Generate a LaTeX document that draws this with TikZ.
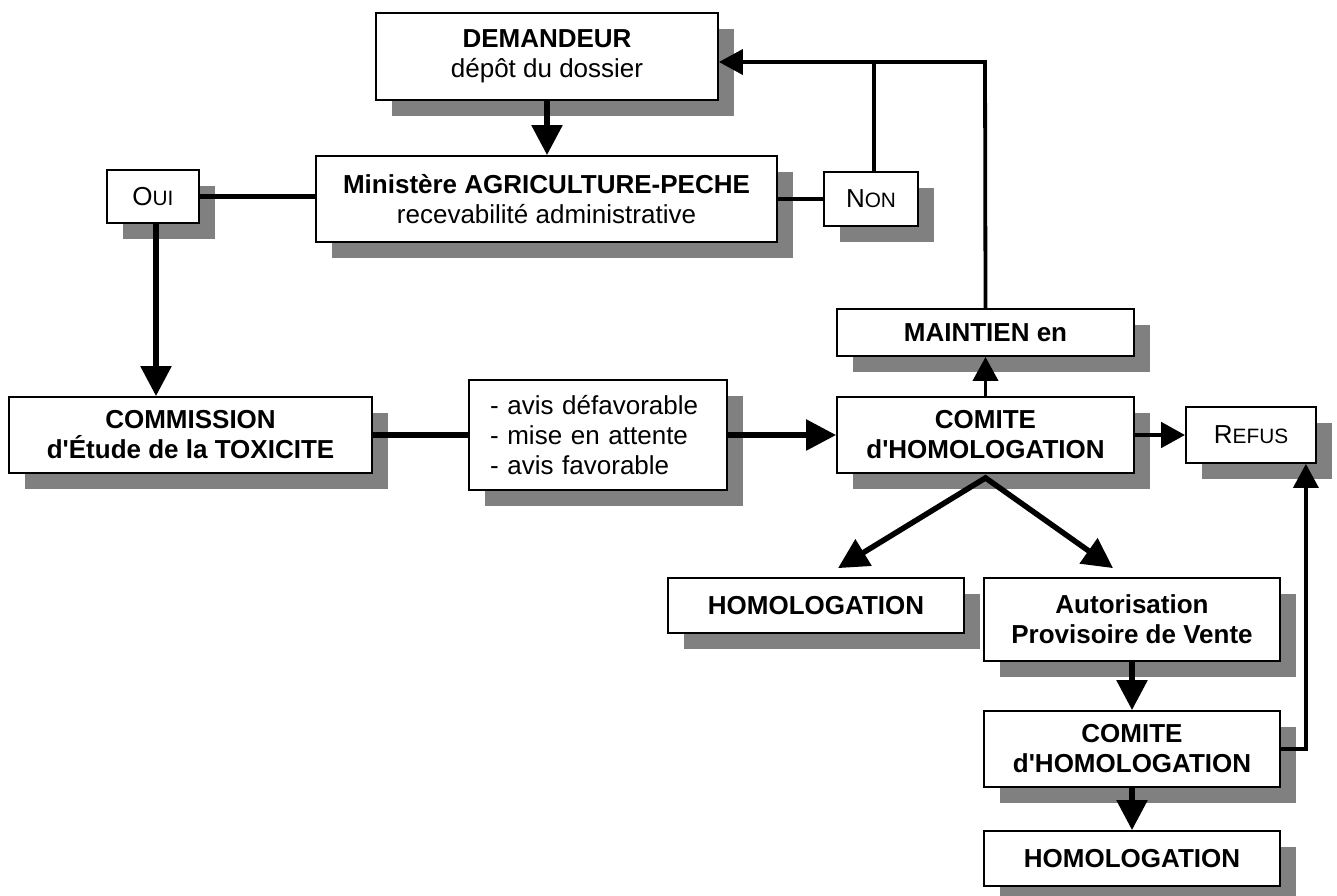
\documentclass[tikz,border=0pt]{standalone}
\usepackage{fontspec}
\setmainfont{Liberation Sans}
\usetikzlibrary{arrows.meta,shadows}
\newcommand{\petcap}[2]{#1{\fontsize{10.4}{12}\selectfont #2}}
\newcommand{\apos}{\textquotesingle}

\begin{document}
\begin{tikzpicture}[x=0.5pt, y=-0.5pt,
		boite/.style={draw, line width=0.9pt, fill=white, inner sep=0pt, align=center,
			font=\fontsize{13}{15}\selectfont,
			drop shadow={shadow xshift=8pt, shadow yshift=-8pt, fill=black!50, opacity=1}},
		gras/.style={boite, font=\fontsize{13}{15}\selectfont\bfseries},
		epais/.style={line width=2.75pt},
		fin/.style={line width=1.9pt},
		grande/.style={-{Triangle[length=15pt, width=15pt]}},
		moyenne/.style={-{Triangle[length=12pt, width=12.5pt]}}]
	\useasboundingbox (0,0) rectangle (1337,895);
			%   %   %   %   %   %   %   %   %   %   %
			%   Demandeur
				\node[gras, minimum width=171pt, minimum height=43.5pt] (DEM) at (547,56.5)
				{DEMANDEUR\\ \mdseries d\'ep\^ot du dossier};
			%   %   %   %   %   %   %   %   %   %   %
			%   Ministere
				\node[gras, minimum width=230.5pt, minimum height=43pt] (MIN) at (546.5,199)
				{Minist\`ere AGRICULTURE-PECHE\\ \mdseries recevabilit\'e administrative};
				\node[boite, minimum width=46pt, minimum height=26.5pt] (OUI) at (153,196.5)
				{\petcap{O}{UI}};
				\node[boite, minimum width=47pt, minimum height=27pt] (NON) at (871,199)
				{\petcap{N}{ON}};
			%   %   %   %   %   %   %   %   %   %   %
			%   Commission et avis
				\node[gras, minimum width=181.5pt, minimum height=38pt] (COMM) at (190.5,435)
				{COMMISSION\\ d\apos\'Etude de la TOXICITE};
				\node[boite, align=left, text width=108pt, minimum width=129pt, minimum height=55pt] (AVIS) at (598,435)
				{- avis d\'efavorable\\ - mise en attente\\ - avis favorable};
			%   %   %   %   %   %   %   %   %   %   %
			%   Comite
				\node[gras, minimum width=148.5pt, minimum height=23.5pt] (MAINT) at (985.5,332.5)
				{MAINTIEN en};
				\node[gras, minimum width=148.5pt, minimum height=38pt] (COMITE) at (985.5,435)
				{COMITE\\ d\apos HOMOLOGATION};
				\node[boite, minimum width=65pt, minimum height=28pt] (REFUS) at (1251,435)
				{\petcap{R}{EFUS}};
			%   %   %   %   %   %   %   %   %   %   %
			%   Decisions
				\node[gras, minimum width=148pt, minimum height=27.5pt] (HOM1) at (816,605.5)
				{HOMOLOGATION};
				\node[gras, minimum width=148pt, minimum height=41.5pt] (APV) at (1132,619.5)
				{Autorisation\\ Provisoire de Vente};
				\node[gras, minimum width=148pt, minimum height=38pt] (COM2) at (1132,749)
				{COMITE\\ d\apos HOMOLOGATION};
				\node[gras, minimum width=148pt, minimum height=27.5pt] (HOM2) at (1132,858.5)
				{HOMOLOGATION};
			%   %   %   %   %   %   %   %   %   %   %
			%   Liaisons
				\coordinate (retour) at (985,62);
				\coordinate (fourche) at ([yshift=-2pt]COMITE.south);
				\draw[epais, grande] (DEM.south) -- (DEM.south |- MIN.north);
				\draw[epais] (OUI.east) -- (OUI.east -| MIN.west);
				\draw[fin] (MIN.east) -- (NON.west);
				\draw[fin] ([xshift=1.5pt]NON.north) -- ([xshift=1.5pt]NON.north |- retour);
				\draw[fin, moyenne] (MAINT.north) -- (retour) -- (DEM.east |- retour);
				\draw[epais, grande] ([xshift=1.5pt]OUI.south) -- ([xshift=1.5pt]OUI.south |- COMM.north);
				\draw[epais] (COMM.east) -- (AVIS.west);
				\draw[epais, grande] (AVIS.east) -- (COMITE.west);
				\draw[fin, moyenne] (COMITE.north) -- (MAINT.south);
				\draw[line width=2.4pt, moyenne] (COMITE.east) -- (REFUS.west);
				\draw[epais, {Triangle[length=15pt, width=15pt]}-{Triangle[length=15pt, width=15pt]}]
				([xshift=11pt, yshift=4.5pt]HOM1.north) -- (fourche) -- ([xshift=-9.5pt, yshift=4.5pt]APV.north);
				\draw[epais, grande] (APV.south) -- (COM2.north);
				\draw[epais, grande] (COM2.south) -- (HOM2.north);
				\draw[fin, moyenne] (COM2.east) -| ([xshift=-5.5pt]REFUS.south east);
\end{tikzpicture}
\end{document}
